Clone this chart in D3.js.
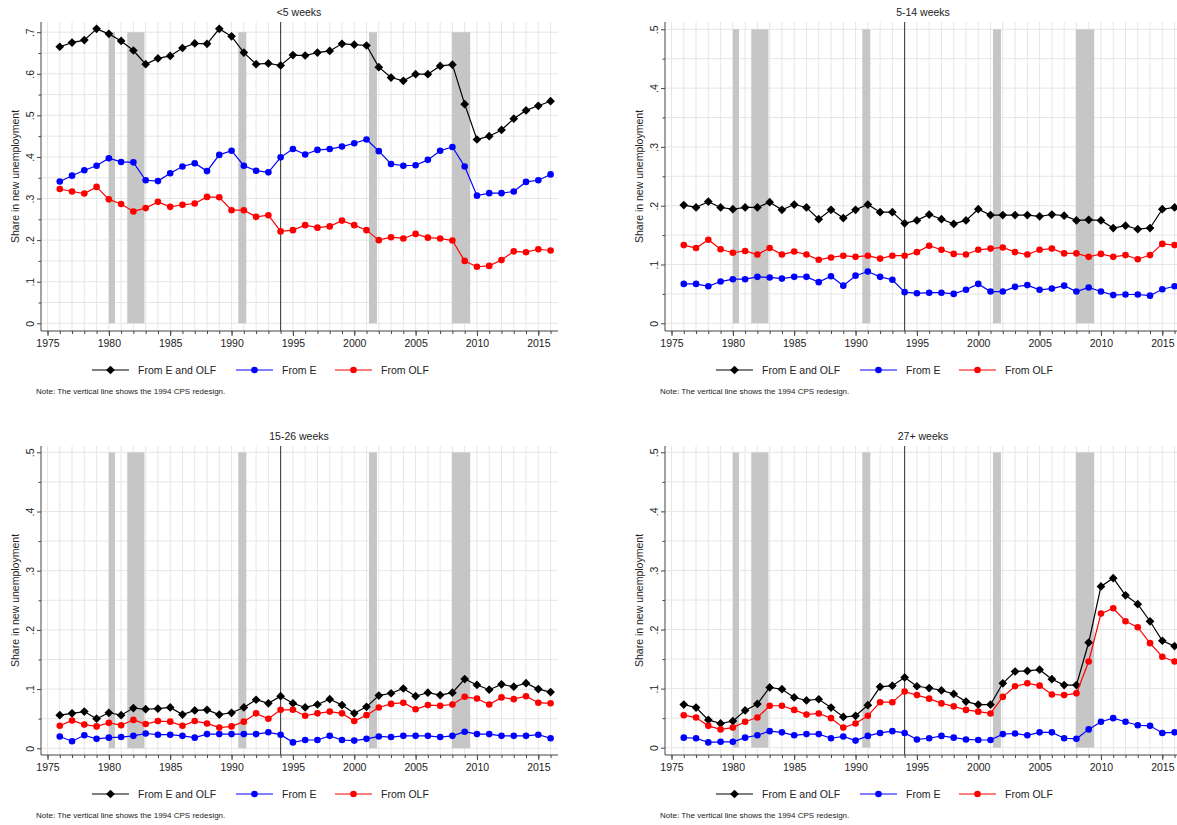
<!DOCTYPE html>
<html>
<head>
<meta charset="utf-8">
<script src="https://cdnjs.cloudflare.com/ajax/libs/d3/7.8.5/d3.min.js"></script>
<style>
  body { margin: 0; background: #fff; }
  svg { display: block; font-family: "Liberation Sans", Arial, sans-serif; }
</style>
</head>
<body>
<div id="chart"></div>
<script>
// years on the x axis (one point per year)
var years = [1976, 1977, 1978, 1979, 1980, 1981, 1982, 1983, 1984, 1985,
             1986, 1987, 1988, 1989, 1990, 1991, 1992, 1993, 1994, 1995,
             1996, 1997, 1998, 1999, 2000, 2001, 2002, 2003, 2004, 2005,
             2006, 2007, 2008, 2009, 2010, 2011, 2012, 2013, 2014, 2015, 2016];

var xTickLabels = [1975, 1980, 1985, 1990, 1995, 2000, 2005, 2010, 2015];

// NBER recessions, as decimal years
var recessions = [[1980.0, 1980.5], [1981.5, 1982.9], [1990.55, 1991.2], [2001.2, 2001.85], [2007.95, 2009.45]];
var redesignYear = 1994;

var seriesNames = ['From E and OLF', 'From E', 'From OLF'];

// <5 weeks
var lt5All = [0.665, 0.675, 0.681, 0.708, 0.696, 0.679, 0.656, 0.623, 0.637, 0.643,
              0.662, 0.673, 0.672, 0.708, 0.690, 0.651, 0.623, 0.625, 0.620, 0.645,
              0.644, 0.651, 0.655, 0.672, 0.670, 0.668, 0.616, 0.591, 0.583, 0.599,
              0.599, 0.619, 0.622, 0.527, 0.442, 0.450, 0.465, 0.492, 0.512, 0.523, 0.534];
var lt5E = [0.341, 0.355, 0.368, 0.379, 0.397, 0.388, 0.387, 0.344, 0.342, 0.361,
            0.377, 0.385, 0.366, 0.405, 0.415, 0.379, 0.367, 0.363, 0.399, 0.419,
            0.406, 0.417, 0.419, 0.425, 0.433, 0.442, 0.414, 0.383, 0.379, 0.380,
            0.393, 0.415, 0.424, 0.377, 0.307, 0.313, 0.313, 0.317, 0.340, 0.344, 0.358];
var lt5Olf = [0.323, 0.317, 0.312, 0.328, 0.298, 0.287, 0.269, 0.277, 0.292, 0.280,
              0.285, 0.288, 0.304, 0.303, 0.272, 0.272, 0.256, 0.260, 0.221, 0.224,
              0.236, 0.230, 0.233, 0.247, 0.236, 0.224, 0.200, 0.207, 0.204, 0.215,
              0.206, 0.204, 0.199, 0.150, 0.136, 0.138, 0.152, 0.173, 0.171, 0.178, 0.175];

// 5-14 weeks
var w5to14All = [0.201, 0.197, 0.207, 0.197, 0.194, 0.197, 0.197, 0.206, 0.193, 0.202,
                 0.197, 0.177, 0.193, 0.179, 0.193, 0.202, 0.189, 0.189, 0.170, 0.175,
                 0.185, 0.177, 0.169, 0.175, 0.194, 0.184, 0.184, 0.184, 0.184, 0.182,
                 0.185, 0.183, 0.175, 0.176, 0.175, 0.162, 0.166, 0.160, 0.162, 0.194, 0.197];
var w5to14E = [0.067, 0.067, 0.063, 0.071, 0.075, 0.075, 0.079, 0.078, 0.076, 0.079,
               0.079, 0.070, 0.080, 0.064, 0.081, 0.088, 0.079, 0.074, 0.053, 0.051,
               0.052, 0.052, 0.050, 0.057, 0.067, 0.054, 0.054, 0.062, 0.065, 0.057,
               0.059, 0.064, 0.054, 0.061, 0.054, 0.048, 0.049, 0.049, 0.047, 0.058, 0.063];
var w5to14Olf = [0.133, 0.128, 0.142, 0.126, 0.120, 0.123, 0.117, 0.128, 0.117, 0.122,
                 0.117, 0.108, 0.112, 0.115, 0.113, 0.115, 0.110, 0.115, 0.115, 0.121,
                 0.132, 0.125, 0.118, 0.117, 0.125, 0.127, 0.129, 0.121, 0.117, 0.125,
                 0.127, 0.119, 0.119, 0.113, 0.118, 0.113, 0.116, 0.109, 0.116, 0.135, 0.133];

// 15-26 weeks
var w15to26All = [0.056, 0.059, 0.062, 0.050, 0.060, 0.056, 0.068, 0.066, 0.067, 0.069,
                  0.057, 0.064, 0.065, 0.057, 0.060, 0.069, 0.082, 0.076, 0.088, 0.076,
                  0.069, 0.074, 0.083, 0.073, 0.059, 0.070, 0.089, 0.093, 0.101, 0.088,
                  0.094, 0.090, 0.094, 0.117, 0.107, 0.099, 0.108, 0.104, 0.110, 0.100, 0.095];
var w15to26E = [0.020, 0.012, 0.022, 0.016, 0.018, 0.019, 0.021, 0.025, 0.023, 0.023,
                0.021, 0.018, 0.024, 0.024, 0.024, 0.024, 0.024, 0.027, 0.023, 0.010,
                0.014, 0.014, 0.021, 0.014, 0.013, 0.016, 0.020, 0.019, 0.021, 0.021,
                0.021, 0.019, 0.021, 0.028, 0.024, 0.024, 0.021, 0.021, 0.021, 0.023, 0.017];
var w15to26Olf = [0.038, 0.047, 0.040, 0.037, 0.043, 0.039, 0.048, 0.041, 0.046, 0.045,
                  0.038, 0.046, 0.042, 0.035, 0.037, 0.045, 0.059, 0.050, 0.065, 0.065,
                  0.055, 0.059, 0.062, 0.059, 0.046, 0.056, 0.069, 0.075, 0.077, 0.066,
                  0.073, 0.072, 0.074, 0.087, 0.084, 0.074, 0.086, 0.083, 0.088, 0.077, 0.076];

// 27+ weeks
var w27All = [0.073, 0.068, 0.047, 0.041, 0.045, 0.063, 0.074, 0.102, 0.099, 0.085,
              0.080, 0.082, 0.068, 0.052, 0.054, 0.072, 0.103, 0.105, 0.119, 0.104,
              0.101, 0.097, 0.091, 0.078, 0.073, 0.073, 0.109, 0.129, 0.130, 0.132,
              0.116, 0.106, 0.106, 0.178, 0.273, 0.287, 0.258, 0.243, 0.214, 0.181, 0.172];
var w27E = [0.017, 0.016, 0.009, 0.010, 0.010, 0.017, 0.021, 0.028, 0.026, 0.021,
            0.023, 0.023, 0.016, 0.019, 0.012, 0.020, 0.025, 0.028, 0.025, 0.014,
            0.016, 0.020, 0.017, 0.014, 0.013, 0.013, 0.023, 0.024, 0.021, 0.026,
            0.026, 0.016, 0.015, 0.031, 0.044, 0.050, 0.044, 0.038, 0.037, 0.025, 0.026];
var w27Olf = [0.055, 0.051, 0.037, 0.031, 0.034, 0.044, 0.051, 0.071, 0.071, 0.064,
              0.056, 0.058, 0.050, 0.034, 0.041, 0.054, 0.077, 0.077, 0.095, 0.089,
              0.083, 0.075, 0.070, 0.064, 0.061, 0.058, 0.086, 0.104, 0.109, 0.105,
              0.090, 0.089, 0.092, 0.146, 0.227, 0.236, 0.214, 0.204, 0.177, 0.154, 0.146];

var colors = ['#000000', '#0000ff', '#ff0000'];

// panel layout (dx/dy = panel offset, zeroPx/topPx = pixel rows of 0 and the top tick)
var panels = [
  { title: '<5 weeks', series: [lt5All, lt5E, lt5Olf], yMax: 0.7, dx: 0, dy: 0, zeroPx: 323.3, topPx: 32.2 },
  { title: '5-14 weeks', series: [w5to14All, w5to14E, w5to14Olf], yMax: 0.5, dx: 624, dy: 0, zeroPx: 323.3, topPx: 29.3 },
  { title: '15-26 weeks', series: [w15to26All, w15to26E, w15to26Olf], yMax: 0.5, dx: 0, dy: 424, zeroPx: 748.3, topPx: 452.3 },
  { title: '27+ weeks', series: [w27All, w27E, w27Olf], yMax: 0.5, dx: 624, dy: 424, zeroPx: 747.7, topPx: 452.3 }
];

var svg = d3.select('#chart').append('svg')
  .attr('width', 1177)
  .attr('height', 825);

var gridColor = '#e6e6e6';
var textColor = '#222';

var fmtY = function (d) {
  if (d === 0) { return '0'; }
  return d3.format('.1f')(d).replace(/^0/, '');
};

var diamond = d3.symbol().type(d3.symbolSquare).size(38);

var drawMarker = function (sel, i, cx, cy) {
  if (i === 0) {
    sel.append('path')
      .attr('d', diamond())
      .attr('transform', 'translate(' + cx + ',' + cy + ') rotate(45)')
      .attr('fill', colors[i]);
  } else {
    sel.append('circle')
      .attr('cx', cx).attr('cy', cy).attr('r', 3.3)
      .attr('fill', colors[i]);
  }
};

var drawPanel = function (p) {
  var g = svg.append('g');
  var x = d3.scaleLinear().domain([1975, 2015]).range([47.5 + p.dx, 538.3 + p.dx]);
  var y = d3.scaleLinear().domain([0, p.yMax]).range([p.zeroPx, p.topPx]);

  var left = 41 + p.dx, right = 558 + p.dx;
  var top = 22 + p.dy, bottom = 331 + p.dy;

  // grid
  var hGrid = d3.range(0, p.yMax + 0.001, 0.05);
  g.selectAll('line.hgrid').data(hGrid).enter().append('line')
    .attr('x1', left).attr('x2', right)
    .attr('y1', function (d) { return y(d); })
    .attr('y2', function (d) { return y(d); })
    .attr('stroke', gridColor).attr('stroke-width', 1);

  var vGrid = [1975].concat(years);
  g.selectAll('line.vgrid').data(vGrid).enter().append('line')
    .attr('x1', function (d) { return x(d); })
    .attr('x2', function (d) { return x(d); })
    .attr('y1', top).attr('y2', bottom)
    .attr('stroke', gridColor).attr('stroke-width', 1);

  // recession shading
  g.selectAll('rect.rec').data(recessions).enter().append('rect')
    .attr('x', function (d) { return x(d[0]); })
    .attr('width', function (d) { return x(d[1]) - x(d[0]); })
    .attr('y', y(p.yMax))
    .attr('height', y(0) - y(p.yMax))
    .attr('fill', '#c6c6c6');

  // CPS redesign line
  g.append('line')
    .attr('x1', x(redesignYear)).attr('x2', x(redesignYear))
    .attr('y1', top).attr('y2', bottom)
    .attr('stroke', '#333').attr('stroke-width', 1);

  // series
  p.series.forEach(function (vals, i) {
    var line = d3.line()
      .x(function (d, j) { return x(years[j]); })
      .y(function (d) { return y(d); });
    g.append('path')
      .datum(vals)
      .attr('d', line)
      .attr('fill', 'none')
      .attr('stroke', colors[i])
      .attr('stroke-width', 1.2);
    vals.forEach(function (v, j) {
      drawMarker(g, i, x(years[j]), y(v));
    });
  });

  // axes
  g.append('line')
    .attr('x1', left).attr('x2', left).attr('y1', top).attr('y2', bottom)
    .attr('stroke', '#444');
  g.append('line')
    .attr('x1', left).attr('x2', right).attr('y1', bottom).attr('y2', bottom)
    .attr('stroke', '#444');

  var xMinor = g.append('g')
    .attr('transform', 'translate(0,' + bottom + ')')
    .call(d3.axisBottom(x).tickValues(vGrid).tickSize(3).tickFormat(''));
  xMinor.select('.domain').remove();

  var xMajor = g.append('g')
    .attr('transform', 'translate(0,' + bottom + ')')
    .call(d3.axisBottom(x).tickValues(xTickLabels).tickSize(5).tickPadding(4).tickFormat(d3.format('d')));
  xMajor.select('.domain').remove();
  xMajor.selectAll('text').attr('font-size', '10.5px').attr('fill', textColor).attr('font-family', null);

  var yMinor = g.append('g')
    .attr('transform', 'translate(' + left + ',0)')
    .call(d3.axisLeft(y).tickValues(d3.range(0.05, p.yMax, 0.1)).tickSize(2.5).tickFormat(''));
  yMinor.select('.domain').remove();

  var yMajor = g.append('g')
    .attr('transform', 'translate(' + left + ',0)')
    .call(d3.axisLeft(y).tickValues(d3.range(0, p.yMax + 0.001, 0.1)).tickSize(4).tickFormat(fmtY));
  yMajor.select('.domain').remove();
  yMajor.selectAll('text')
    .attr('transform', 'rotate(-90)')
    .attr('x', 0).attr('y', -7).attr('dy', 0)
    .attr('text-anchor', 'middle')
    .attr('font-size', '10.5px').attr('fill', textColor).attr('font-family', null);

  g.selectAll('.tick line').attr('stroke', '#444');

  // axis title
  g.append('text')
    .attr('transform', 'translate(' + (19 + p.dx) + ',' + ((top + bottom) / 2) + ') rotate(-90)')
    .attr('text-anchor', 'middle')
    .attr('font-size', '10.5px')
    .attr('fill', textColor)
    .text('Share in new unemployment');

  // panel title
  g.append('text')
    .attr('x', 299 + p.dx).attr('y', 16 + p.dy)
    .attr('text-anchor', 'middle')
    .attr('font-size', '10.5px')
    .attr('fill', textColor)
    .text(p.title);

  // legend
  var legX = [92, 236, 335];
  var legY = 370 + p.dy;
  seriesNames.forEach(function (name, i) {
    var lx = legX[i] + p.dx;
    g.append('line')
      .attr('x1', lx).attr('x2', lx + 37).attr('y1', legY).attr('y2', legY)
      .attr('stroke', colors[i]).attr('stroke-width', 1.2);
    drawMarker(g, i, lx + 18.5, legY);
    g.append('text')
      .attr('x', lx + 46).attr('y', legY + 3.8)
      .attr('font-size', '10.5px')
      .attr('fill', textColor)
      .text(name);
  });

  // note
  g.append('text')
    .attr('x', 36 + p.dx).attr('y', 393.5 + p.dy)
    .attr('font-size', '8px')
    .attr('fill', textColor)
    .text('Note: The vertical line shows the 1994 CPS redesign.');
};

panels.forEach(drawPanel);
</script>
</body>
</html>
